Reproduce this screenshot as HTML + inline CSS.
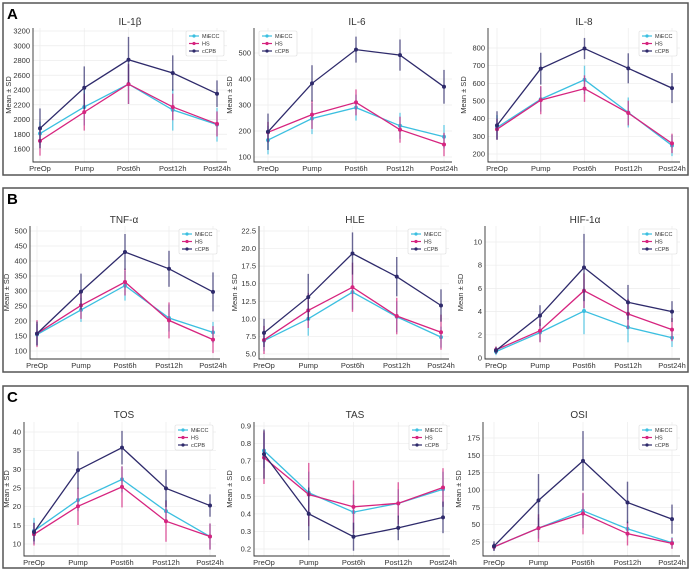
<!DOCTYPE html>
<html><head><meta charset="utf-8"><style>
body{margin:0;background:#fff}
svg{display:block;font-family:"Liberation Sans","DejaVu Sans",sans-serif}
</style></head><body>
<svg id="fig" width="691" height="571" viewBox="0 0 691 571" xmlns="http://www.w3.org/2000/svg">
<rect x="0" y="0" width="691" height="571" fill="#fff"/>
<rect x="3" y="3" width="685" height="172" fill="none" stroke="#555" stroke-width="1.5"/>
<rect x="3" y="188" width="685" height="184" fill="none" stroke="#555" stroke-width="1.5"/>
<rect x="3" y="386" width="685" height="182" fill="none" stroke="#555" stroke-width="1.5"/>
<text x="7" y="19" font-size="15" font-weight="bold">A</text>
<text x="7" y="204" font-size="15" font-weight="bold">B</text>
<text x="7" y="402" font-size="15" font-weight="bold">C</text>
</svg>
<script>
const categories = ["PreOp","Pump","Post6h","Post12h","Post24h"];
const groups = ["MiECC","HS","cCPB"];
const il1Mean = [[1810,2170,2480,2130,1930],[1710,2100,2480,2170,1940],[1880,2430,2810,2630,2350]];
const il1Sd = [[160,250,270,280,230],[200,250,270,180,170],[270,290,310,240,180]];
const il6Mean = [[165,248,290,220,178],[195,263,310,205,148],[197,383,513,492,370]];
const il6Sd = [[55,60,50,50,45],[40,55,50,50,45],[70,70,50,60,65]];
const il8Mean = [[350,510,620,435,248],[340,505,570,432,260],[362,683,797,685,573]];
const il8Sd = [[70,70,80,85,60],[60,80,75,70,55],[80,90,60,85,85]];
const tnfMean = [[155,237,318,210,162],[158,252,330,202,138],[158,298,430,374,297]];
const tnfSd = [[35,40,50,45,35],[45,45,45,60,45],[40,60,60,60,65]];
const hleMean = [[6.9,10.0,13.8,10.3,7.4],[7.0,11.2,14.5,10.4,8.1],[8.0,13.1,19.3,16.0,11.9]];
const hleSd = [[1.5,2.4,2.5,2.2,1.5],[2,2.5,3.5,2.6,2.5],[2,3.3,3,2.8,2.3]];
const hifMean = [[0.55,2.2,4.05,2.65,1.75],[0.7,2.35,5.8,3.8,2.45],[0.65,3.65,7.8,4.8,4.0]];
const hifSd = [[0.3,0.8,2,1.3,0.8],[0.3,1,1.5,1.3,1],[0.3,0.9,2.9,1.5,0.9]];
const tosMean = [[13.5,21.8,27.3,18.8,12.0],[12.6,20.1,25.3,16.1,12.0],[13.2,29.8,35.8,24.9,20.3]];
const tosSd = [[3.5,3,3.5,3,3.5],[3,5,5.5,5.5,3.5],[2.5,5,4.5,5,3]];
const tasMean = [[0.76,0.52,0.41,0.46,0.54],[0.72,0.51,0.44,0.46,0.55],[0.74,0.40,0.27,0.32,0.38]];
const tasSd = [[0.1,0.12,0.1,0.08,0.1],[0.15,0.18,0.15,0.12,0.11],[0.14,0.15,0.08,0.07,0.09]];
const osiMean = [[18,45,70,44,24],[18,45,66,37,23],[19,85,142,82,58]];
const osiSd = [[5,15,25,12,8],[5,20,30,17,8],[7,38,43,30,21]];
const il1Ticks=[1600,1800,2000,2200,2400,2600,2800,3000,3200];
const il6Ticks=[100,200,300,400,500];
const il8Ticks=[200,300,400,500,600,700,800];
const tnfTicks=[100,150,200,250,300,350,400,450,500];
const hleTicks=["5.0","7.5","10.0","12.5","15.0","17.5","20.0","22.5"];
const hifTicks=[0,2,4,6,8,10];
const tosTicks=[10,15,20,25,30,35,40];
const tasTicks=["0.2","0.3","0.4","0.5","0.6","0.7","0.8","0.9"];
const osiTicks=[25,50,75,100,125,150,175];

const colors=["#3bbfe0","#d6247f","#2e2a6b"];
const NS="http://www.w3.org/2000/svg";
const svg=document.getElementById("fig");
function mk(tag,attrs,parent){const e=document.createElementNS(NS,tag);for(const k in attrs)e.setAttribute(k,attrs[k]);(parent||svg).appendChild(e);return e;}

const panels=[
 {id:"il-1b",title:"IL-1β",mean:il1Mean,sd:il1Sd,ticks:il1Ticks,top:28,bottom:162,sx:33,right:227,xa:40,xb:217,v1:3200,p1:31,v2:1600,p2:149,tx:130,ty:25,legLeft:false},
 {id:"il-6",title:"IL-6",mean:il6Mean,sd:il6Sd,ticks:il6Ticks,top:28,bottom:162,sx:254,right:452,xa:268,xb:444,v1:500,p1:53,v2:100,p2:157,tx:357,ty:25,legLeft:true},
 {id:"il-8",title:"IL-8",mean:il8Mean,sd:il8Sd,ticks:il8Ticks,top:28,bottom:162,sx:488,right:680,xa:497,xb:672,v1:800,p1:48,v2:200,p2:154,tx:584,ty:25,legLeft:false},
 {id:"tnf-a",title:"TNF-α",mean:tnfMean,sd:tnfSd,ticks:tnfTicks,top:226,bottom:359,sx:30,right:220,xa:37,xb:213,v1:500,p1:231,v2:100,p2:351,tx:124,ty:223,legLeft:false},
 {id:"hle",title:"HLE",mean:hleMean,sd:hleSd,ticks:hleTicks,top:226,bottom:359,sx:259,right:449,xa:264,xb:441,v1:22.5,p1:231,v2:5,p2:354,tx:355,ty:223,legLeft:false},
 {id:"hif-1a",title:"HIF-1α",mean:hifMean,sd:hifSd,ticks:hifTicks,top:226,bottom:359,sx:485,right:680,xa:496,xb:672,v1:10,p1:242,v2:0,p2:358,tx:585,ty:223,legLeft:false},
 {id:"tos",title:"TOS",mean:tosMean,sd:tosSd,ticks:tosTicks,top:422,bottom:556,sx:24,right:216,xa:34,xb:210,v1:40,p1:432,v2:10,p2:544,tx:124,ty:418,legLeft:false},
 {id:"tas",title:"TAS",mean:tasMean,sd:tasSd,ticks:tasTicks,top:422,bottom:556,sx:254,right:450,xa:264,xb:443,v1:0.9,p1:426,v2:0.2,p2:549,tx:355,ty:418,legLeft:false},
 {id:"osi",title:"OSI",mean:osiMean,sd:osiSd,ticks:osiTicks,top:422,bottom:556,sx:483,right:680,xa:494,xb:672,v1:175,p1:438,v2:25,p2:542,tx:579,ty:418,legLeft:false}
];

panels.forEach(p=>{
 const g=mk("g",{});
 
 
 const y=v=>p.p2+(v-p.v2)*(p.p1-p.p2)/(p.v1-p.v2);
 const x=i=>p.xa+i*(p.xb-p.xa)/(categories.length-1);
 p.ticks.forEach(t=>{const yy=y(+t);
  const gl=mk("line",{x1:p.sx,x2:p.right,y1:yy,y2:yy,stroke:"#ececec","stroke-width":0.7},g);
  
  
  const tl=mk("text",{x:p.sx-3,y:yy+2.5,"font-size":7.5,"text-anchor":"end",fill:"#333"},g);
  tl.textContent=t;
  
  
 });
 categories.forEach((c,i)=>{
  mk("line",{x1:x(i),x2:x(i),y1:p.top,y2:p.bottom,stroke:"#ececec","stroke-width":0.7},g);
  const tl=mk("text",{x:x(i),y:p.bottom+9,"font-size":7.5,"text-anchor":"middle",fill:"#333"},g);
  tl.textContent=c;
  
  
 });
 const ax=mk("path",{d:`M${p.sx},${p.top} V${p.bottom} H${p.right}`,fill:"none",stroke:"#333","stroke-width":0.9},g);
 
 
 const ti=mk("text",{x:p.tx,y:p.ty,"font-size":10,"text-anchor":"middle",fill:"#333"},g);
 ti.textContent=p.title;
 
 
 const ylx=Math.max(p.sx-22,9);
 const yl=mk("text",{transform:`translate(${ylx},${(p.top+p.bottom)/2}) rotate(-90)`,"font-size":7.5,"text-anchor":"middle",fill:"#333"},g);
 yl.textContent="Mean ± SD";
 
 
 groups.forEach((gname,s)=>{
  const m=p.mean[s],sd=p.sd[s];
  m.forEach((v,i)=>{
   const eb=mk("line",{x1:x(i),x2:x(i),y1:y(v-sd[i]),y2:y(v+sd[i]),stroke:colors[s],"stroke-width":1.4,"stroke-opacity":0.7},g);
   
   
  });
  const ln=mk("polyline",{points:m.map((v,i)=>x(i)+","+y(v)).join(" "),fill:"none",stroke:colors[s],"stroke-width":1.3},g);
  
  
  m.forEach((v,i)=>{
   const pt=mk("circle",{cx:x(i),cy:y(v),r:2,fill:colors[s]},g);
   
   
  });
 });
 const lw=38,lh=25,lx=p.legLeft?p.sx+5:p.right-lw-3,ly=p.top+3;
 const lg=mk("g",{},g);
 
 
 mk("rect",{x:lx,y:ly,width:lw,height:lh,fill:"#fff",stroke:"#ddd","stroke-width":0.6,rx:1.5},lg);
 groups.forEach((gname,s)=>{
  const yy=ly+5+s*7.5;
  mk("line",{x1:lx+3,x2:lx+13,y1:yy,y2:yy,stroke:colors[s],"stroke-width":1.2},lg);
  mk("circle",{cx:lx+8,cy:yy,r:1.6,fill:colors[s]},lg);
  const lt=mk("text",{x:lx+16,y:yy+2,"font-size":5.5,fill:"#333"},lg);
  lt.textContent=gname;
  
  
 });
});
</script>
</body></html>
